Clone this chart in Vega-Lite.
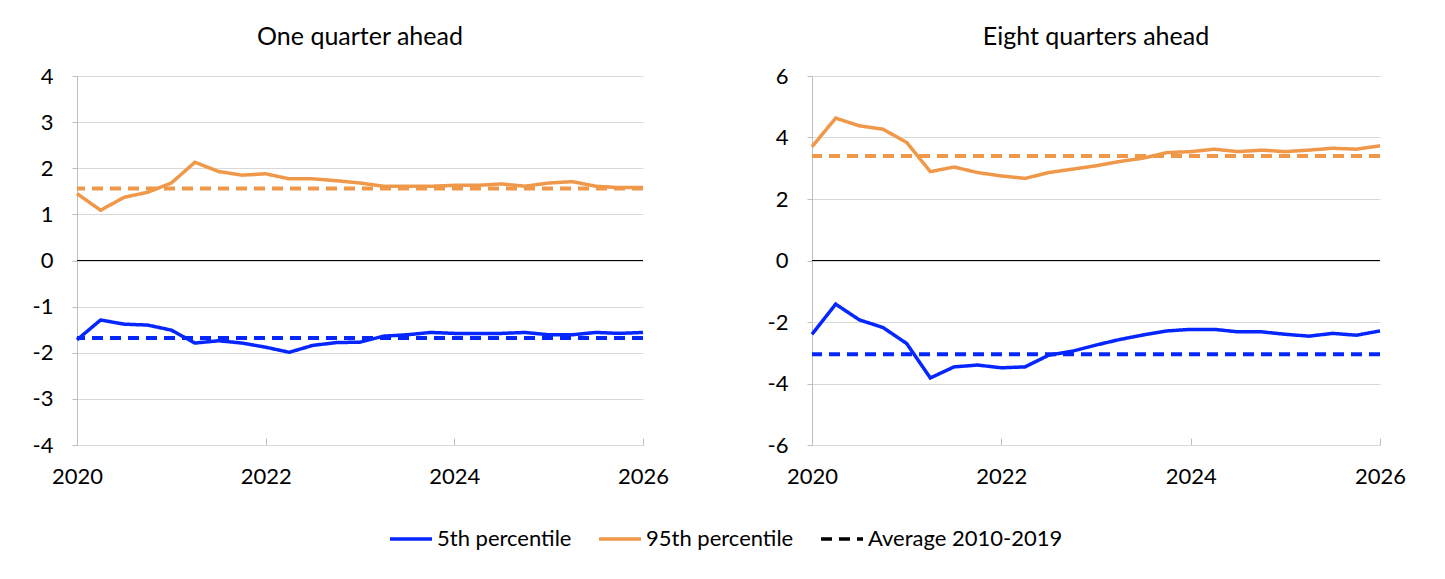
{
  "$schema": "https://vega.github.io/schema/vega-lite/v6.json",
  "padding": {"left": 32, "top": 25, "right": 40, "bottom": 10},
  "datasets": {
    "lines": [
      {"panel": "L", "series": "95th percentile", "t": 2020.00, "value": 1.45},
      {"panel": "L", "series": "95th percentile", "t": 2020.25, "value": 1.09},
      {"panel": "L", "series": "95th percentile", "t": 2020.50, "value": 1.37},
      {"panel": "L", "series": "95th percentile", "t": 2020.75, "value": 1.48},
      {"panel": "L", "series": "95th percentile", "t": 2021.00, "value": 1.68},
      {"panel": "L", "series": "95th percentile", "t": 2021.25, "value": 2.13},
      {"panel": "L", "series": "95th percentile", "t": 2021.50, "value": 1.93},
      {"panel": "L", "series": "95th percentile", "t": 2021.75, "value": 1.85},
      {"panel": "L", "series": "95th percentile", "t": 2022.00, "value": 1.88},
      {"panel": "L", "series": "95th percentile", "t": 2022.25, "value": 1.77},
      {"panel": "L", "series": "95th percentile", "t": 2022.50, "value": 1.77},
      {"panel": "L", "series": "95th percentile", "t": 2022.75, "value": 1.73},
      {"panel": "L", "series": "95th percentile", "t": 2023.00, "value": 1.68},
      {"panel": "L", "series": "95th percentile", "t": 2023.25, "value": 1.61},
      {"panel": "L", "series": "95th percentile", "t": 2023.50, "value": 1.61},
      {"panel": "L", "series": "95th percentile", "t": 2023.75, "value": 1.61},
      {"panel": "L", "series": "95th percentile", "t": 2024.00, "value": 1.63},
      {"panel": "L", "series": "95th percentile", "t": 2024.25, "value": 1.63},
      {"panel": "L", "series": "95th percentile", "t": 2024.50, "value": 1.66},
      {"panel": "L", "series": "95th percentile", "t": 2024.75, "value": 1.61},
      {"panel": "L", "series": "95th percentile", "t": 2025.00, "value": 1.68},
      {"panel": "L", "series": "95th percentile", "t": 2025.25, "value": 1.71},
      {"panel": "L", "series": "95th percentile", "t": 2025.50, "value": 1.61},
      {"panel": "L", "series": "95th percentile", "t": 2025.75, "value": 1.58},
      {"panel": "L", "series": "95th percentile", "t": 2026.00, "value": 1.58},
      {"panel": "L", "series": "5th percentile", "t": 2020.00, "value": -1.72},
      {"panel": "L", "series": "5th percentile", "t": 2020.25, "value": -1.29},
      {"panel": "L", "series": "5th percentile", "t": 2020.50, "value": -1.38},
      {"panel": "L", "series": "5th percentile", "t": 2020.75, "value": -1.40},
      {"panel": "L", "series": "5th percentile", "t": 2021.00, "value": -1.51},
      {"panel": "L", "series": "5th percentile", "t": 2021.25, "value": -1.79},
      {"panel": "L", "series": "5th percentile", "t": 2021.50, "value": -1.74},
      {"panel": "L", "series": "5th percentile", "t": 2021.75, "value": -1.79},
      {"panel": "L", "series": "5th percentile", "t": 2022.00, "value": -1.88},
      {"panel": "L", "series": "5th percentile", "t": 2022.25, "value": -1.99},
      {"panel": "L", "series": "5th percentile", "t": 2022.50, "value": -1.84},
      {"panel": "L", "series": "5th percentile", "t": 2022.75, "value": -1.78},
      {"panel": "L", "series": "5th percentile", "t": 2023.00, "value": -1.77},
      {"panel": "L", "series": "5th percentile", "t": 2023.25, "value": -1.64},
      {"panel": "L", "series": "5th percentile", "t": 2023.50, "value": -1.61},
      {"panel": "L", "series": "5th percentile", "t": 2023.75, "value": -1.56},
      {"panel": "L", "series": "5th percentile", "t": 2024.00, "value": -1.58},
      {"panel": "L", "series": "5th percentile", "t": 2024.25, "value": -1.58},
      {"panel": "L", "series": "5th percentile", "t": 2024.50, "value": -1.58},
      {"panel": "L", "series": "5th percentile", "t": 2024.75, "value": -1.56},
      {"panel": "L", "series": "5th percentile", "t": 2025.00, "value": -1.61},
      {"panel": "L", "series": "5th percentile", "t": 2025.25, "value": -1.61},
      {"panel": "L", "series": "5th percentile", "t": 2025.50, "value": -1.56},
      {"panel": "L", "series": "5th percentile", "t": 2025.75, "value": -1.58},
      {"panel": "L", "series": "5th percentile", "t": 2026.00, "value": -1.56},
      {"panel": "R", "series": "95th percentile", "t": 2020.00, "value": 3.70},
      {"panel": "R", "series": "95th percentile", "t": 2020.25, "value": 4.63},
      {"panel": "R", "series": "95th percentile", "t": 2020.50, "value": 4.38},
      {"panel": "R", "series": "95th percentile", "t": 2020.75, "value": 4.27},
      {"panel": "R", "series": "95th percentile", "t": 2021.00, "value": 3.84},
      {"panel": "R", "series": "95th percentile", "t": 2021.25, "value": 2.89},
      {"panel": "R", "series": "95th percentile", "t": 2021.50, "value": 3.04},
      {"panel": "R", "series": "95th percentile", "t": 2021.75, "value": 2.86},
      {"panel": "R", "series": "95th percentile", "t": 2022.00, "value": 2.75},
      {"panel": "R", "series": "95th percentile", "t": 2022.25, "value": 2.67},
      {"panel": "R", "series": "95th percentile", "t": 2022.50, "value": 2.86},
      {"panel": "R", "series": "95th percentile", "t": 2022.75, "value": 2.97},
      {"panel": "R", "series": "95th percentile", "t": 2023.00, "value": 3.08},
      {"panel": "R", "series": "95th percentile", "t": 2023.25, "value": 3.22},
      {"panel": "R", "series": "95th percentile", "t": 2023.50, "value": 3.33},
      {"panel": "R", "series": "95th percentile", "t": 2023.75, "value": 3.51},
      {"panel": "R", "series": "95th percentile", "t": 2024.00, "value": 3.54},
      {"panel": "R", "series": "95th percentile", "t": 2024.25, "value": 3.62},
      {"panel": "R", "series": "95th percentile", "t": 2024.50, "value": 3.54},
      {"panel": "R", "series": "95th percentile", "t": 2024.75, "value": 3.59},
      {"panel": "R", "series": "95th percentile", "t": 2025.00, "value": 3.54},
      {"panel": "R", "series": "95th percentile", "t": 2025.25, "value": 3.59},
      {"panel": "R", "series": "95th percentile", "t": 2025.50, "value": 3.65},
      {"panel": "R", "series": "95th percentile", "t": 2025.75, "value": 3.62},
      {"panel": "R", "series": "95th percentile", "t": 2026.00, "value": 3.73},
      {"panel": "R", "series": "5th percentile", "t": 2020.00, "value": -2.40},
      {"panel": "R", "series": "5th percentile", "t": 2020.25, "value": -1.42},
      {"panel": "R", "series": "5th percentile", "t": 2020.50, "value": -1.93},
      {"panel": "R", "series": "5th percentile", "t": 2020.75, "value": -2.18},
      {"panel": "R", "series": "5th percentile", "t": 2021.00, "value": -2.70},
      {"panel": "R", "series": "5th percentile", "t": 2021.25, "value": -3.82},
      {"panel": "R", "series": "5th percentile", "t": 2021.50, "value": -3.46},
      {"panel": "R", "series": "5th percentile", "t": 2021.75, "value": -3.40},
      {"panel": "R", "series": "5th percentile", "t": 2022.00, "value": -3.49},
      {"panel": "R", "series": "5th percentile", "t": 2022.25, "value": -3.46},
      {"panel": "R", "series": "5th percentile", "t": 2022.50, "value": -3.08},
      {"panel": "R", "series": "5th percentile", "t": 2022.75, "value": -2.95},
      {"panel": "R", "series": "5th percentile", "t": 2023.00, "value": -2.75},
      {"panel": "R", "series": "5th percentile", "t": 2023.25, "value": -2.57},
      {"panel": "R", "series": "5th percentile", "t": 2023.50, "value": -2.42},
      {"panel": "R", "series": "5th percentile", "t": 2023.75, "value": -2.29},
      {"panel": "R", "series": "5th percentile", "t": 2024.00, "value": -2.24},
      {"panel": "R", "series": "5th percentile", "t": 2024.25, "value": -2.24},
      {"panel": "R", "series": "5th percentile", "t": 2024.50, "value": -2.32},
      {"panel": "R", "series": "5th percentile", "t": 2024.75, "value": -2.32},
      {"panel": "R", "series": "5th percentile", "t": 2025.00, "value": -2.40},
      {"panel": "R", "series": "5th percentile", "t": 2025.25, "value": -2.46},
      {"panel": "R", "series": "5th percentile", "t": 2025.50, "value": -2.37},
      {"panel": "R", "series": "5th percentile", "t": 2025.75, "value": -2.43},
      {"panel": "R", "series": "5th percentile", "t": 2026.00, "value": -2.29}
    ],
    "avgs": [
      {"panel": "L", "band": "95th", "series": "Average 2010-2019", "value": 1.56},
      {"panel": "L", "band": "5th", "series": "Average 2010-2019", "value": -1.68},
      {"panel": "R", "band": "95th", "series": "Average 2010-2019", "value": 3.40},
      {"panel": "R", "band": "5th", "series": "Average 2010-2019", "value": -3.05}
    ]
  },
  "config": {
    "view": {"stroke": null},
    "font": "Lato",
    "title": {"fontSize": 25, "fontWeight": "normal", "color": "black", "offset": 15, "font": "Lato"},
    "axis": {"labelFontSize": 22, "labelColor": "black", "labelFont": "Lato", "title": null, "labelExpr": "'' + datum.value"},
    "axisY": {"grid": true, "gridColor": "#d9d9d9", "gridWidth": 1, "domainColor": "#bfbfbf", "tickColor": "#bfbfbf", "tickSize": 5, "labelPadding": 19},
    "axisX": {"grid": false, "domainColor": "#d9d9d9", "tickColor": "#bfbfbf", "tickSize": -7, "labelPadding": 28, "labelFlush": false},
    "legend": {
      "orient": "none", "legendX": 311, "legendY": 440,
      "direction": "horizontal", "title": null,
      "symbolType": "stroke", "symbolSize": 1764, "symbolStrokeWidth": 3.5,
      "labelFontSize": 22, "labelFont": "Lato", "labelColor": "black", "labelLimit": 0,
      "labelOffset": 3, "columnPadding": 20
    }
  },
  "spacing": 98,
  "hconcat": [
    {
      "title": "One quarter ahead",
      "width": 566, "height": 369,
      "layer": [
        {
          "data": {"values": [{"zero": 0}]},
          "mark": {"type": "rule", "color": "black", "strokeWidth": 1},
          "encoding": {"y": {"field": "zero", "type": "quantitative", "scale": {"domain": [-4, 4]}}}
        },
        {
          "data": {"name": "avgs"},
          "transform": [{"filter": "datum.panel === 'L'"}],
          "mark": {"type": "rule", "strokeWidth": 4},
          "encoding": {
            "y": {"field": "value", "type": "quantitative", "scale": {"domain": [-4, 4]}},
            "strokeDash": {"field": "series", "type": "nominal", "scale": {"domain": ["5th percentile", "95th percentile", "Average 2010-2019"], "range": [[1, 0], [1, 0], [11, 7]]}},
            "color": {"condition": {"test": "datum.band === '5th'", "value": "#0526ff"}, "value": "#f0984a"}
          }
        },
        {
          "data": {"name": "lines"},
          "transform": [{"filter": "datum.panel === 'L'"}],
          "mark": {"type": "line", "strokeWidth": 3.5},
          "encoding": {
            "x": {"field": "t", "type": "quantitative", "scale": {"domain": [2020, 2026], "nice": false}, "axis": {"values": [2020, 2022, 2024, 2026]}},
            "y": {"field": "value", "type": "quantitative", "scale": {"domain": [-4, 4]}, "axis": {"values": [-4, -3, -2, -1, 0, 1, 2, 3, 4]}},
            "color": {"field": "series", "type": "nominal", "scale": {"domain": ["5th percentile", "95th percentile", "Average 2010-2019"], "range": ["#0526ff", "#f0984a", "#000000"]}},
            "strokeDash": {"field": "series", "type": "nominal", "scale": {"domain": ["5th percentile", "95th percentile", "Average 2010-2019"], "range": [[1, 0], [1, 0], [11, 7]]}}
          }
        }
      ]
    },
    {
      "title": "Eight quarters ahead",
      "width": 568, "height": 369,
      "layer": [
        {
          "data": {"values": [{"zero": 0}]},
          "mark": {"type": "rule", "color": "black", "strokeWidth": 1},
          "encoding": {"y": {"field": "zero", "type": "quantitative", "scale": {"domain": [-6, 6]}}}
        },
        {
          "data": {"name": "avgs"},
          "transform": [{"filter": "datum.panel === 'R'"}],
          "mark": {"type": "rule", "strokeWidth": 4},
          "encoding": {
            "y": {"field": "value", "type": "quantitative", "scale": {"domain": [-6, 6]}},
            "strokeDash": {"field": "series", "type": "nominal", "scale": {"domain": ["5th percentile", "95th percentile", "Average 2010-2019"], "range": [[1, 0], [1, 0], [11, 7]]}},
            "color": {"condition": {"test": "datum.band === '5th'", "value": "#0526ff"}, "value": "#f0984a"}
          }
        },
        {
          "data": {"name": "lines"},
          "transform": [{"filter": "datum.panel === 'R'"}],
          "mark": {"type": "line", "strokeWidth": 3.5},
          "encoding": {
            "x": {"field": "t", "type": "quantitative", "scale": {"domain": [2020, 2026], "nice": false}, "axis": {"values": [2020, 2022, 2024, 2026]}},
            "y": {"field": "value", "type": "quantitative", "scale": {"domain": [-6, 6]}, "axis": {"values": [-6, -4, -2, 0, 2, 4, 6]}},
            "color": {"field": "series", "type": "nominal", "scale": {"domain": ["5th percentile", "95th percentile", "Average 2010-2019"], "range": ["#0526ff", "#f0984a", "#000000"]}},
            "strokeDash": {"field": "series", "type": "nominal", "scale": {"domain": ["5th percentile", "95th percentile", "Average 2010-2019"], "range": [[1, 0], [1, 0], [11, 7]]}}
          }
        }
      ]
    }
  ]
}
